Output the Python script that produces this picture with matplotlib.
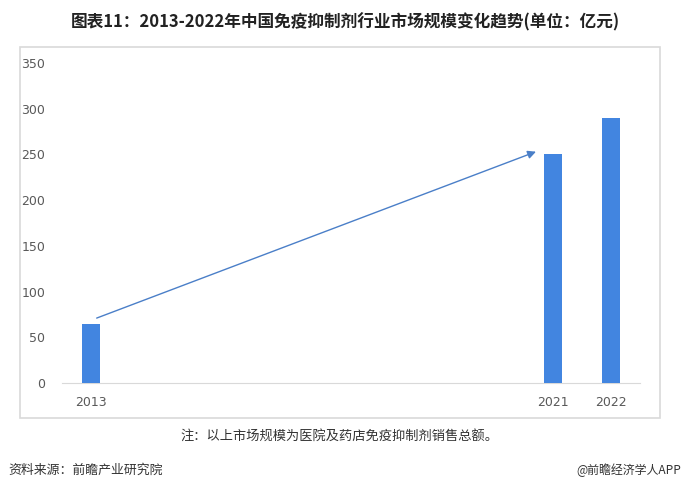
import matplotlib.pyplot as plt
from matplotlib.patches import Rectangle

plt.rcParams['font.family'] = ['Noto Sans CJK SC', 'DejaVu Sans']

years = ['2013', '2014', '2015', '2016', '2017', '2018', '2019', '2020', '2021', '2022']
tick_labels = ['2013', '', '', '', '', '', '', '', '2021', '2022']
values = [65, None, None, None, None, None, None, None, 250, 290]
arrow_start = (0.1, 71)
arrow_end = (7.7, 253)

bar_color = '#4285E0'
grey = '#595959'

fig = plt.figure(figsize=(6.84, 4.93), dpi=100)
fig.patches.append(Rectangle((20 / 684, 1 - 418 / 493), 640 / 684, 371 / 493,
                             transform=fig.transFigure, fill=False,
                             edgecolor='#d9d9d9', linewidth=1.2))

ax = fig.add_axes([62 / 684, 1 - 383 / 493, 578 / 684, 320 / 493])
xs = [i for i, v in enumerate(values) if v is not None]
hs = [v for v in values if v is not None]
ax.bar(xs, hs, width=0.31, color=bar_color, zorder=3)

ax.annotate('', xy=arrow_end, xytext=arrow_start,
            arrowprops=dict(arrowstyle='-|>', color='#4a7fc8', lw=1.0,
                            mutation_scale=12, shrinkA=0, shrinkB=0))

ax.set_xlim(-0.5, len(years) - 0.5)
ax.set_ylim(0, 350)
ax.set_yticks(range(0, 351, 50))
ax.set_xticks(range(len(years)))
ax.set_xticklabels(tick_labels)
for s in ['top', 'right', 'left']:
    ax.spines[s].set_visible(False)
ax.spines['bottom'].set_color('#d9d9d9')
ax.tick_params(axis='both', length=0, labelsize=9, labelcolor=grey)
ax.tick_params(axis='x', pad=9)
ax.tick_params(axis='y', pad=12)
for lbl in ax.get_xticklabels() + ax.get_yticklabels():
    lbl.set_family('DejaVu Sans')

fig.text(345 / 684, 1 - 22 / 493, '图表11：2013-2022年中国免疫抑制剂行业市场规模变化趋势(单位：亿元)',
         ha='center', va='center', fontsize=12, fontweight='bold', color='#222222')
fig.text(339 / 684, 1 - 437 / 493, '注：以上市场规模为医院及药店免疫抑制剂销售总额。',
         ha='center', va='center', fontsize=9.5, color='#333333')
fig.text(8 / 684, 1 - 470 / 493, '资料来源：前瞻产业研究院',
         ha='left', va='center', fontsize=9.3, color='#333333')
fig.text(681 / 684, 1 - 470 / 493, '@前瞻经济学人APP',
         ha='right', va='center', fontsize=8.6, color='#333333')

fig.savefig('out.png', dpi=100)
